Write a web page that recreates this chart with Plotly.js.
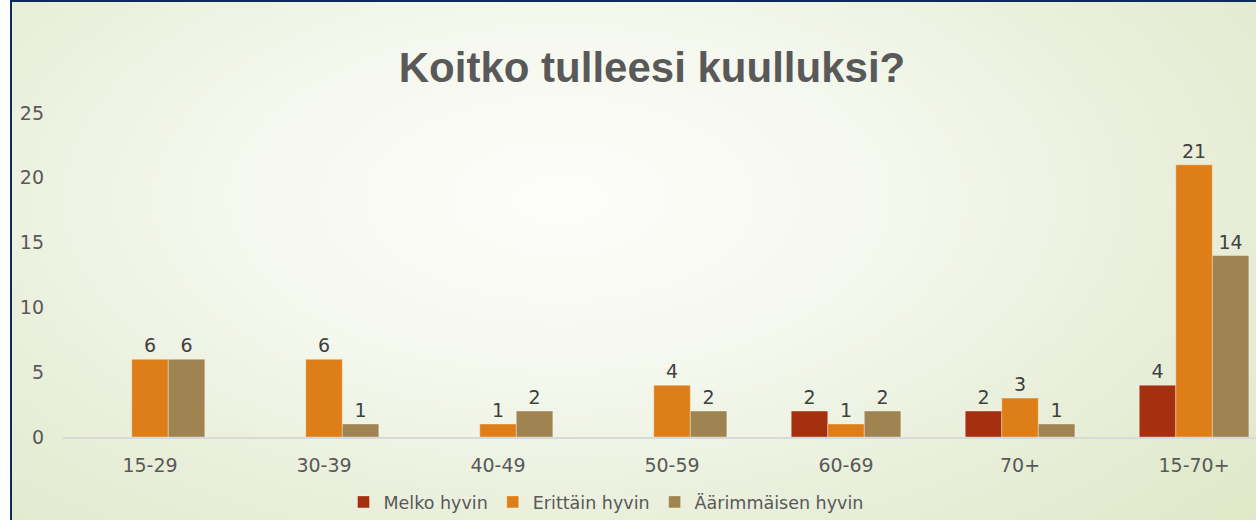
<!DOCTYPE html>
<html>
<head>
<meta charset="utf-8">
<script src="https://cdn.plot.ly/plotly-3.0.1.min.js"></script>
<style>
  html, body { margin: 0; padding: 0; background: #ffffff; }
  #wrap { position: relative; width: 1256px; height: 520px; overflow: hidden; background: #ffffff; }
  #slide {
    position: absolute; left: 10px; top: 0; width: 1246px; height: 520px;
    box-sizing: border-box;
    border-left: 2px solid #0C2B5C; border-top: 2px solid #0C2B5C;
    background: radial-gradient(ellipse 75% 95% at 44% 38%, #fdfdfa 0%, #f5f8ee 35%, #e8eed8 70%, #dfe8c8 100%);
  }
  #chart { position: absolute; left: 0; top: 0; width: 1256px; height: 520px; }
</style>
</head>
<body>
<div id="wrap">
  <div id="slide"></div>
  <div id="chart"></div>
</div>
<script>
const categories = ["15-29", "30-39", "40-49", "50-59", "60-69", "70+", "15-70+"];
const seriesNames = ["Melko hyvin", "Erittäin hyvin", "Äärimmäisen hyvin"];
const melkoHyvin = [null, null, null, null, 2, 2, 4];
const erittainHyvin = [6, 6, 1, 4, 1, 3, 21];
const aarimmaisenHyvin = [6, 1, 2, 2, 2, 1, 14];
const yTicks = [0, 5, 10, 15, 20, 25];
const colors = ["#A5300F", "#DE7E18", "#9F8351"];

const allValues = [melkoHyvin, erittainHyvin, aarimmaisenHyvin];
const traces = allValues.map((vals, i) => ({
  type: "bar",
  name: seriesNames[i],
  x: categories,
  y: vals,
  text: vals.map(v => v === null ? "" : String(v)),
  textposition: "outside",
  cliponaxis: false,
  textfont: { family: "DejaVu Sans", size: 19, color: "#404040" },
  marker: { color: colors[i], line: { color: "rgba(255,255,255,0.35)", width: 1 } },
  hoverinfo: "x+y+name"
}));

const layout = {
  width: 1256, height: 520,
  paper_bgcolor: "rgba(0,0,0,0)",
  plot_bgcolor: "rgba(0,0,0,0)",
  margin: { l: 63, r: 0, t: 113, b: 83, pad: 0 },
  barmode: "group",
  bargap: 0.37,
  bargroupgap: 0,
  showlegend: true,
  title: {
    text: "Koitko tulleesi kuulluksi?",
    font: { family: "Liberation Sans", size: 42, color: "#595959", weight: "bold" },
    xref: "container", yref: "container",
    x: 652 / 1256, xanchor: "center",
    y: 1 - 67 / 520, yanchor: "middle"
  },
  xaxis: {
    type: "category",
    range: [-0.5, 6.356],
    showgrid: false, zeroline: false,
    showline: true, linecolor: "#D9D9D9", linewidth: 1.5,
    ticks: "",
    ticklabelstandoff: 11,
    tickfont: { family: "DejaVu Sans", size: 19, color: "#595959" },
    fixedrange: true
  },
  yaxis: {
    range: [0, 25],
    tickvals: yTicks,
    showgrid: false, zeroline: false, showline: false,
    ticks: "",
    ticklabelstandoff: 18,
    tickfont: { family: "DejaVu Sans", size: 19, color: "#595959" },
    fixedrange: true
  },
  legend: {
    orientation: "h",
    xref: "container", yref: "container",
    x: 606 / 1256, xanchor: "center",
    y: 1 - 502 / 520, yanchor: "middle",
    font: { family: "DejaVu Sans", size: 17.5, color: "#595959" },
    bgcolor: "rgba(0,0,0,0)",
    itemwidth: 30,
    traceorder: "normal"
  }
};

Plotly.newPlot("chart", traces, layout, { displayModeBar: false, staticPlot: true });
</script>
</body>
</html>
